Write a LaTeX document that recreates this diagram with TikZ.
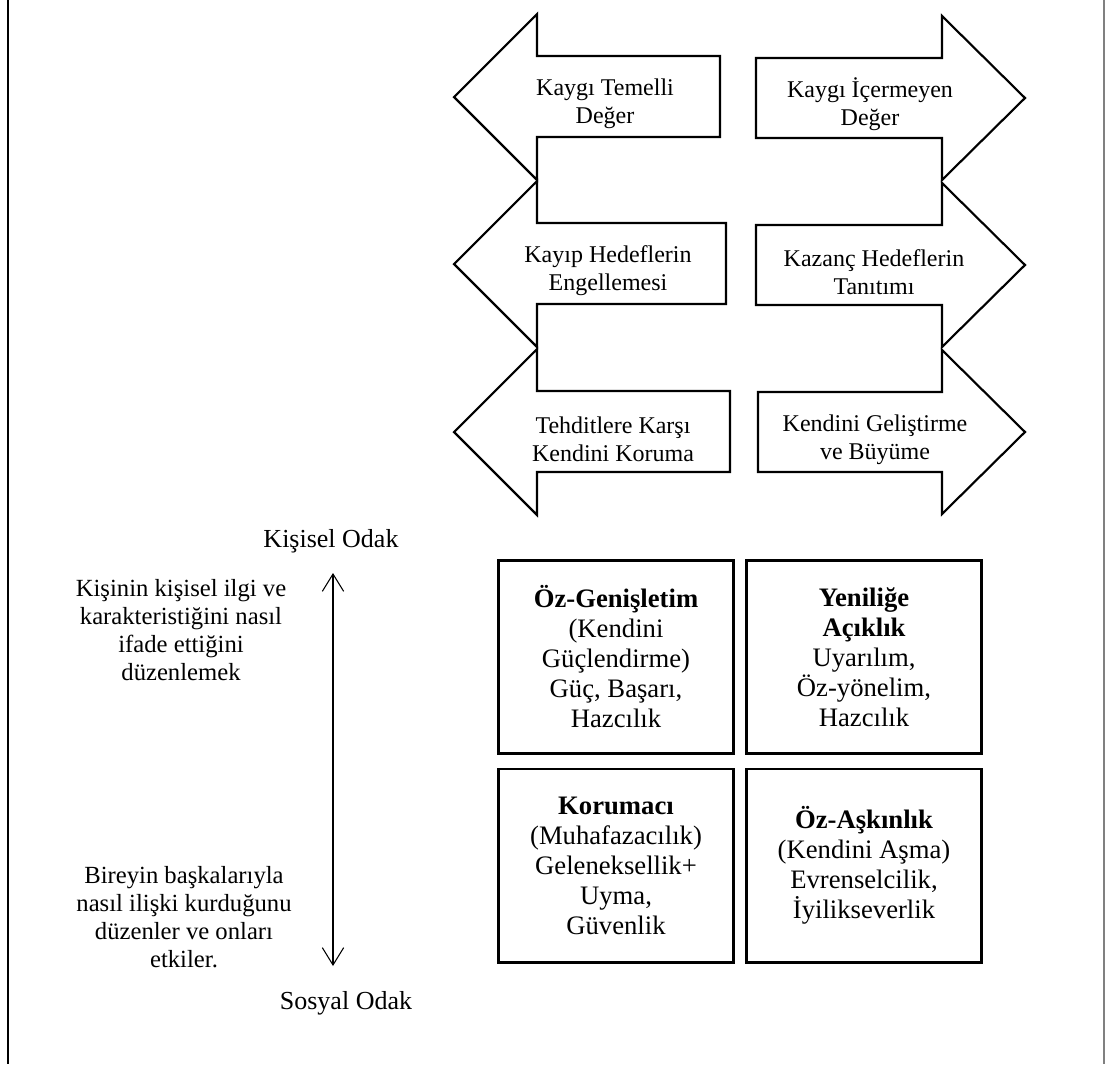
\documentclass[tikz,border=0pt]{standalone}
\usepackage{fontspec}
\setmainfont{Liberation Serif}
\usetikzlibrary{arrows.meta}

\tikzset{
  outline/.style={draw, line width=1.6pt, line join=miter, fill=white},
  arrowtext/.style={align=center, font=\fontsize{18}{21}\selectfont, inner sep=0pt},
  sidetext/.style={align=center, font=\fontsize{18.5}{21}\selectfont, inner sep=0pt},
  odak/.style={font=\fontsize{19.5}{22}\selectfont, inner sep=0pt},
  valuebox/.style={draw, line width=2pt, minimum width=176pt, minimum height=145pt,
    align=center, font=\fontsize{20}{22.5}\selectfont, inner sep=0pt},
  barb/.tip={Straight Barb[length=13pt, width=16pt]}
}

\begin{document}
\begin{tikzpicture}[x=0.75pt, y=-0.75pt]
    \useasboundingbox (0,0) rectangle (1105,1064);

    \pgfmathsetmacro{\leftTip}{454}
    \pgfmathsetmacro{\leftBack}{537}
    \pgfmathsetmacro{\rightTip}{1025}
    \pgfmathsetmacro{\rightBack}{942}

    % side frame lines
    \draw[line width=1.1pt] (8,0) -- (8,1064);
    \draw[gray, line width=1.1pt] (1104,0) -- (1104,1064);

    % create the left pointing arrows
    \foreach \ty/\sr in {97/720, 264/726, 432/730}
    \draw[outline] (\sr,\ty-41) -- (\leftBack,\ty-41) -- (\leftBack,\ty-83) -- (\leftTip,\ty)
        -- (\leftBack,\ty+83) -- (\leftBack,\ty+40) -- (\sr,\ty+40) -- cycle;

    % create the right pointing arrows
    \foreach \ty/\sl in {98/756, 265/756, 432/758}
    \draw[outline] (\sl,\ty-40) -- (\rightBack,\ty-40) -- (\rightBack,\ty-82) -- (\rightTip,\ty)
        -- (\rightBack,\ty+82) -- (\rightBack,\ty+40) -- (\sl,\ty+40) -- cycle;

    \node[arrowtext] (lv1) at (605,104) {Kaygı Temelli\\Değer};
    \node[arrowtext] (lv2) at (608,271) {Kayıp Hedeflerin\\Engellemesi};
    \node[arrowtext] (lv3) at (613,439) {Tehditlere Karşı\\Kendini Koruma};
    \node[arrowtext] (rv1) at (870,104) {Kaygı İçermeyen\\Değer};
    \node[arrowtext] (rv2) at (874,272) {Kazanç Hedeflerin\\Tanıtımı};
    \node[arrowtext] (rv3) at (875,440) {Kendini Geliştirme\\ve Büyüme};

    % create the four value boxes
    \node[valuebox] (ozgen) at (616,657) {\textbf{Öz-Genişletim}\\(Kendini\\Güçlendirme)\\Güç, Başarı,\\Hazcılık};
    \node[valuebox] (yenilik) at (864,657) {\textbf{Yeniliğe}\\\textbf{Açıklık}\\Uyarılım,\\Öz-yönelim,\\Hazcılık};
    \node[valuebox] (koruma) at (616,865.5) {\textbf{Korumacı}\\(Muhafazacılık)\\Geleneksellik+\\Uyma,\\Güvenlik};
    \node[valuebox] (askin) at (864,865.5) {\textbf{Öz-Aşkınlık}\\(Kendini Aşma)\\Evrenselcilik,\\İyilikseverlik};

    % focus axis on the left
    \node[odak] (kisisel) at (331,541) {Kişisel Odak};
    \node[odak] (sosyal) at (346,1003) {Sosyal Odak};
    \node[sidetext] (kisiselnot) at (181,630) {Kişinin kişisel ilgi ve\\karakteristiğini nasıl\\ifade ettiğini\\düzenlemek};
    \node[sidetext] (sosyalnot) at (184,917) {Bireyin başkalarıyla\\nasıl ilişki kurduğunu\\düzenler ve onları\\etkiler.};
    \coordinate (axtop) at (333,573);
    \coordinate (axbot) at (333,966);
    \draw[barb-barb, line width=0.8pt] (axtop) -- (axbot);
\end{tikzpicture}
\end{document}
